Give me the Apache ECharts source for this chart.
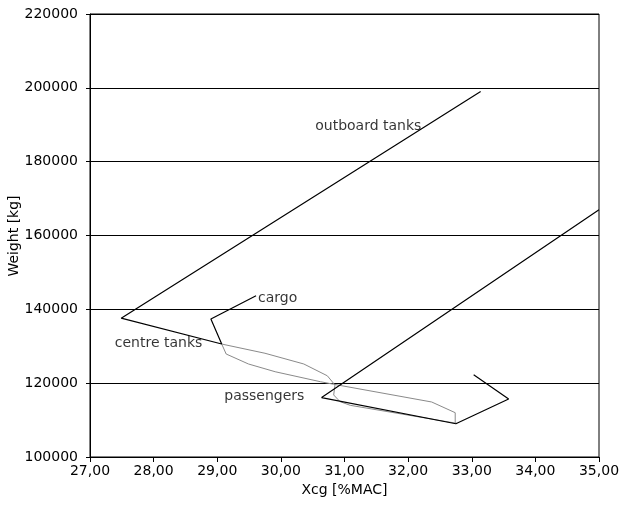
<!DOCTYPE html>
<html>
<head>
<meta charset="utf-8">
<script src="https://cdn.jsdelivr.net/npm/echarts@6/dist/echarts.min.js"></script>
<style>
  html, body { margin: 0; padding: 0; background: #fff; }
  #chart { width: 619px; height: 509px; }
</style>
</head>
<body>
<div id="chart"></div>
<script>
// Loading diagram: weight against centre-of-gravity position
var xTicks = [27, 28, 29, 30, 31, 32, 33, 34, 35];
var yTicks = [100000, 120000, 140000, 160000, 180000, 200000, 220000];

// Fuel: outboard tanks, centre tanks, cargo
var fuelCargoLine = [
  [33.14, 199000], [27.49, 137600], [29.07, 130600], [28.90, 137400], [29.61, 143700]
];
// Empty-weight corner and passenger summary
var baseLine = [
  [33.03, 122300], [33.58, 115700], [32.75, 109000], [30.64, 116100], [35.00, 167000]
];
// Passenger boarding, first order
var paxFrontBack = [
  [29.07, 130600], [29.14, 127900], [29.49, 125200], [29.91, 123100], [30.62, 120400],
  [30.83, 119700], [32.37, 114900], [32.74, 112000], [32.74, 109200]
];
// Passenger boarding, second order
var paxBackFront = [
  [29.07, 130600], [29.75, 128100], [30.36, 125200], [30.73, 122000], [30.85, 119500],
  [30.83, 116800], [30.93, 115000], [31.09, 114000], [32.77, 109100]
];
// Annotation texts and their anchor points
var noteTexts = ['outboard tanks', 'cargo', 'centre tanks', 'passengers'];
var notePoints = [[30.54, 189500], [29.64, 143100], [27.39, 130900], [29.11, 116300]];

var chart = echarts.init(document.getElementById('chart'));
var font = 'DejaVu Sans, sans-serif';

function lineSeries(data, color, width) {
  return {
    type: 'line', data: data, showSymbol: false, symbol: 'none',
    lineStyle: { color: color, width: width }, animation: false, z: 3
  };
}

chart.setOption({
  animation: false,
  grid: {
    left: 90, right: 20, top: 14, bottom: 52,
    containLabel: false, outerBoundsMode: 'none',
    show: true, borderColor: '#000', borderWidth: 1, backgroundColor: '#fff'
  },
  graphic: [{
    type: 'text', x: 14, y: 236, rotation: Math.PI / 2,
    style: {
      text: 'Weight [kg]', fill: '#000',
      fontFamily: font, fontSize: 14,
      align: 'center', verticalAlign: 'middle'
    }
  }],
  xAxis: {
    type: 'value', min: xTicks[0], max: xTicks[xTicks.length - 1], interval: 1,
    name: 'Xcg [%MAC]', nameLocation: 'middle', nameGap: 22,
    nameTextStyle: { color: '#000', fontFamily: font, fontSize: 14 },
    axisLine: { show: true, lineStyle: { color: '#000', width: 1 } },
    axisTick: { show: true, length: 5, inside: false, lineStyle: { color: '#000' } },
    axisLabel: {
      color: '#000', fontFamily: font, fontSize: 14, margin: 7,
      formatter: function (v) { return v.toFixed(2).replace('.', ','); }
    },
    splitLine: { show: false }
  },
  yAxis: {
    type: 'value', min: yTicks[0], max: yTicks[yTicks.length - 1], interval: 20000,
    axisLine: { show: true, lineStyle: { color: '#000', width: 1 } },
    axisTick: { show: true, length: 4, inside: false, lineStyle: { color: '#000' } },
    axisLabel: {
      color: '#000', fontFamily: font, fontSize: 14, margin: 12,
      formatter: function (v) { return String(v); }
    },
    splitLine: { show: true, lineStyle: { color: '#000', width: 1 } }
  },
  series: [
    lineSeries(paxFrontBack, '#8a8a8a', 1),
    lineSeries(paxBackFront, '#8a8a8a', 1),
    lineSeries(fuelCargoLine, '#000', 1.2),
    lineSeries(baseLine, '#000', 1.2),
    {
      type: 'scatter', symbolSize: 0, animation: false, z: 5,
      data: notePoints.map(function (p, i) { return { value: p, name: noteTexts[i] }; }),
      label: {
        show: true, position: 'inside', align: 'left', verticalAlign: 'middle',
        color: '#000', fontFamily: font, fontSize: 14,
        formatter: function (p) { return p.name; }
      }
    }
  ]
});
</script>
</body>
</html>
